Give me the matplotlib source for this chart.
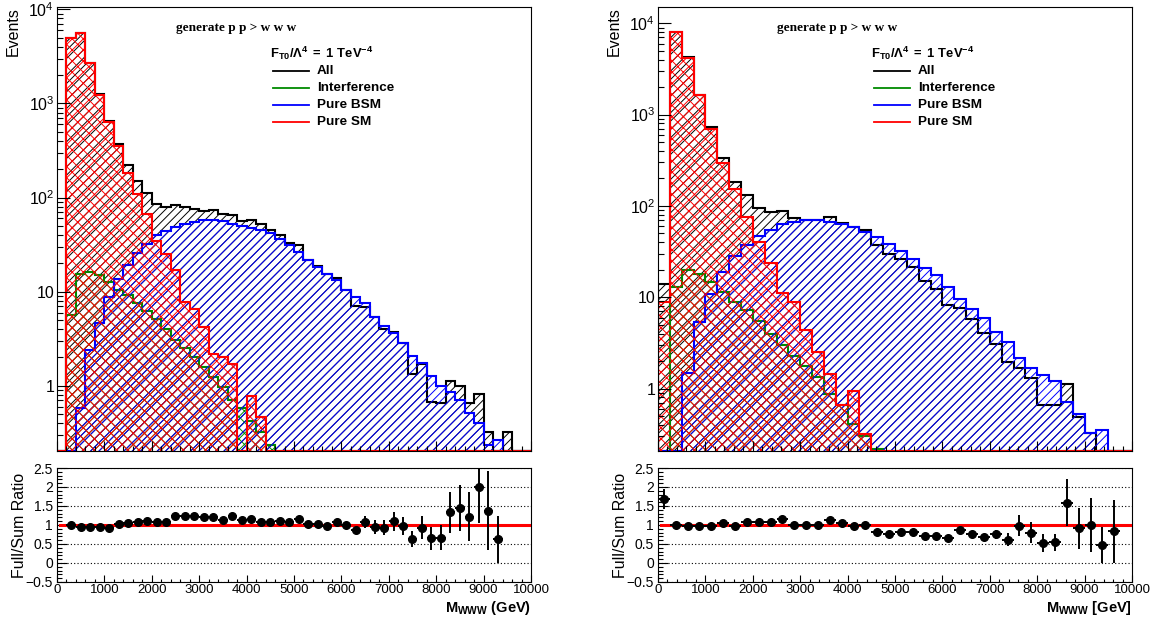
import numpy as np
import matplotlib
matplotlib.use("Agg")
import matplotlib.pyplot as plt
from matplotlib.ticker import MultipleLocator, LogLocator, NullFormatter, FuncFormatter

plt.rcParams['font.family'] = ['Liberation Sans', 'DejaVu Sans']
plt.rcParams['mathtext.fontset'] = 'custom'
plt.rcParams['mathtext.rm'] = 'Liberation Sans'
plt.rcParams['mathtext.bf'] = 'Liberation Sans:bold'
plt.rcParams['mathtext.it'] = 'Liberation Sans:italic'
plt.rcParams['hatch.linewidth'] = 0.7

# ---------------- left sample: 200 GeV bins ----------------
left_bin_width = 200
left_all = [0, 4950, 5660, 2700, 1260, 652, 368, 224, 149, 113,
            85, 78.5, 83, 78.5, 76.5, 72, 73, 67.5, 65, 56,
            57.5, 52, 45, 39.8, 33, 31, 21.9, 18.6, 15.6, 14.1,
            10.4, 7.0, 6.8, 5.4, 4.06, 3.74, 2.82, 1.33, 1.70, 0.68,
            0.66, 1.13, 1.0, 0.66, 0.82, 0.325, 0.17, 0.325, 0, 0]
left_int = [0, 5.7, 15.3, 16.3, 15, 12.7, 10.4, 9.2, 7.5, 6.3,
            5.1, 4.06, 3.1, 2.5, 2.03, 1.59, 1.25, 0.98, 0.70, 0.575,
            0.42, 0.325, 0.235, 0, 0, 0, 0, 0, 0, 0,
            0, 0, 0, 0, 0, 0, 0, 0, 0, 0,
            0, 0, 0, 0, 0, 0, 0, 0, 0, 0]
left_bsm = [0, 0, 0.575, 2.43, 4.67, 8.8, 13.5, 19.4, 25.8, 32.5,
            39.8, 44.3, 48.8, 52.8, 55, 57.3, 57.3, 56.4, 52.8, 49.6,
            47, 45, 41.6, 36.6, 31, 26.4, 21.9, 18.3, 15.6, 13.2,
            10.4, 8.7, 7.5, 5.4, 4.3, 3.6, 2.86, 2.07, 1.75, 1.27,
            0.99, 0.85, 0.70, 0.52, 0.40, 0.235, 0.265, 0, 0, 0]
left_sm = [0, 4950, 5650, 2680, 1240, 635, 351, 184, 108, 67.6,
           34.6, 25.4, 17.2, 7.8, 6.6, 4.2, 2.2, 2.0, 1.7, 0,
           0.78, 0.47, 0, 0, 0, 0, 0, 0, 0, 0,
           0, 0, 0, 0, 0, 0, 0, 0, 0, 0,
           0, 0, 0, 0, 0, 0, 0, 0, 0, 0]
left_ratio = [None, 1.0, 0.96, 0.96, 0.96, 0.93, 1.02, 1.04, 1.09, 1.10,
              1.09, 1.09, 1.24, 1.24, 1.24, 1.21, 1.21, 1.13, 1.24, 1.14,
              1.17, 1.08, 1.09, 1.10, 1.09, 1.17, 1.03, 1.03, 0.97, 1.08,
              0.99, 0.86, 1.07, 0.95, 0.93, 1.10, 0.98, 0.63, 0.93, 0.65,
              0.67, 1.33, 1.45, 1.22, 2.01, 1.38, 0.62, None, None, None]
left_ratio_err = [None, 0.02, 0.02, 0.02, 0.02, 0.02, 0.02, 0.02, 0.02, 0.02,
                  0.02, 0.03, 0.03, 0.03, 0.03, 0.03, 0.03, 0.03, 0.03, 0.03,
                  0.03, 0.04, 0.04, 0.05, 0.05, 0.05, 0.06, 0.06, 0.07, 0.07,
                  0.09, 0.09, 0.16, 0.18, 0.19, 0.25, 0.24, 0.22, 0.30, 0.30,
                  0.33, 0.53, 0.61, 0.645, 0.97, 1.03, 0.62, None, None, None]

# ---------------- right sample: 250 GeV bins ----------------
right_bin_width = 250
right_all = [14.1, 8070, 4250, 1650, 725, 339, 183, 131, 96, 86,
             88, 73, 71, 70, 76, 65, 58.6, 54, 37.1, 30.1,
             26.5, 21.5, 14.9, 12.3, 8.2, 7.7, 5.8, 4.1, 3.05, 1.96,
             1.66, 1.32, 0.66, 0.66, 1.13, 0.49, 0.33, 0.17, 0.12, 0]
right_int = [0, 13, 19.8, 18.2, 14.7, 11.4, 8.9, 7.2, 5.5, 4.0,
             2.98, 2.3, 1.76, 1.34, 0.88, 0.66, 0.41, 0.30, 0.22, 0,
             0, 0, 0, 0, 0, 0, 0, 0, 0, 0,
             0, 0, 0, 0, 0, 0, 0, 0, 0, 0]
right_bsm = [0, 0, 1.48, 5.36, 10.8, 18.9, 28.2, 37.8, 47, 55,
             63, 66.5, 69.7, 69.7, 66.5, 63, 58.6, 52, 45.5, 38.7,
             32, 26.5, 21.1, 17.4, 12.9, 9.5, 7.5, 6.0, 4.17, 3.24,
             2.18, 1.66, 1.40, 1.21, 0.71, 0.53, 0.33, 0.35, 0.15, 0]
right_sm = [8.9, 8050, 4220, 1630, 705, 299, 155, 75.8, 40.3, 23.7,
            11, 8.9, 4.43, 2.52, 1.43, 0.66, 0.94, 0.32, 0, 0,
            0, 0, 0, 0, 0, 0, 0, 0, 0, 0,
            0, 0, 0, 0, 0, 0, 0, 0, 0, 0]
right_ratio = [1.68, 1.0, 0.98, 0.97, 0.97, 1.04, 0.97, 1.09, 1.07, 1.07,
               1.15, 1.0, 1.0, 1.0, 1.13, 1.04, 0.98, 1.0, 0.81, 0.76,
               0.82, 0.82, 0.71, 0.71, 0.66, 0.86, 0.76, 0.69, 0.76, 0.61,
               0.98, 0.80, 0.52, 0.54, 1.59, 0.91, 1.0, 0.48, 0.83, None]
right_ratio_err = [0.26, 0.02, 0.02, 0.02, 0.02, 0.02, 0.02, 0.02, 0.02, 0.02,
                   0.03, 0.03, 0.03, 0.03, 0.03, 0.03, 0.03, 0.03, 0.04, 0.04,
                   0.05, 0.05, 0.06, 0.06, 0.07, 0.07, 0.08, 0.08, 0.12, 0.17,
                   0.28, 0.28, 0.24, 0.23, 0.61, 0.55, 0.72, 0.47, 0.84, None]

legend_header = r"$\mathbf{F_{T0}/\Lambda^{4}\ =\ 1\ TeV^{-4}}$"
legend_labels = ["All", "Interference", "Pure BSM", "Pure SM"]
process_text = "generate p p > w w w"
x_range = (0, 10000)

COLORS = {"All": "black", "Interference": "#008a00", "Pure BSM": "#0000ff", "Pure SM": "#ff0000"}
HATCH = {"All": "////", "Interference": "xxx", "Pure BSM": "////", "Pure SM": "xxx"}


def log_label(v, pos):
    if v <= 0:
        return ""
    e = int(round(np.log10(v)))
    if abs(v - 10 ** e) > 1e-6 * v:
        return ""
    if e == 0:
        return "1"
    if e == 1:
        return "10"
    return r"$\mathregular{10^{%d}}$" % e


def ratio_label(v, pos):
    s = "%g" % round(v, 3)
    return s.replace("-", "\u2212")


def draw_panel(ax, axr, width, hists, ratio, ratio_err, ylim, xlabel):
    n = len(hists["All"])
    edges = np.arange(n + 1) * width
    centers = 0.5 * (edges[:-1] + edges[1:])
    ymin = ylim[0]

    # stacked drawing order: total first, then the components
    for name in ["All", "Interference", "Pure BSM", "Pure SM"]:
        vals = np.clip(np.asarray(hists[name], dtype=float), ymin, None)
        ax.stairs(vals, edges, baseline=ymin, fill=True, facecolor="none",
                  edgecolor=COLORS[name], hatch=HATCH[name], linewidth=0)
        ax.stairs(vals, edges, baseline=ymin, color=COLORS[name], linewidth=1.5)

    ax.set_yscale("log")
    ax.set_xlim(*x_range)
    ax.set_ylim(*ylim)
    ax.xaxis.set_major_locator(MultipleLocator(1000))
    ax.xaxis.set_minor_locator(MultipleLocator(200))
    ax.yaxis.set_major_locator(LogLocator(base=10, numticks=20))
    ax.yaxis.set_minor_locator(LogLocator(base=10, subs=np.arange(2, 10), numticks=20))
    ax.yaxis.set_major_formatter(FuncFormatter(log_label))
    ax.yaxis.set_minor_formatter(NullFormatter())
    ax.tick_params(axis="both", which="both", direction="in", top=False, right=False,
                   labelbottom=False, labelsize=11.5)
    ax.tick_params(axis="y", which="major", length=9, width=0.8, pad=2)
    ax.tick_params(axis="y", which="minor", length=4.5, width=0.8)
    ax.tick_params(axis="x", which="major", length=7.5, width=0.8)
    ax.tick_params(axis="x", which="minor", length=3.5, width=0.8)
    for s in ax.spines.values():
        s.set_linewidth(0.8)

    ax.text(-0.092, 1.0, "Events", transform=ax.transAxes, rotation=90,
            ha="center", va="top", fontsize=11.5)
    ax.text(0.251, 0.9527, process_text, transform=ax.transAxes, ha="left", va="center",
            fontsize=9.5, fontweight="bold", family="Liberation Serif")
    ax.text(0.449, 0.8964, legend_header, transform=ax.transAxes, ha="left", va="center",
            fontsize=9.4)
    rows = [0.8565, 0.8176, 0.7793, 0.7417]
    for name, yy in zip(legend_labels, rows):
        ax.plot([0.455, 0.532], [yy, yy], transform=ax.transAxes, color=COLORS[name],
                lw=1.3, clip_on=False)
        ax.text(0.548, yy, name, transform=ax.transAxes, ha="left", va="center",
                fontsize=9.7, fontweight="bold")

    # ratio panel
    r = np.asarray(ratio, dtype=float)
    re = np.asarray(ratio_err, dtype=float)
    axr.set_xlim(*x_range)
    axr.set_ylim(-0.5, 2.5)
    axr.yaxis.set_major_locator(MultipleLocator(0.5))
    axr.yaxis.set_minor_locator(MultipleLocator(0.1))
    axr.yaxis.set_major_formatter(FuncFormatter(ratio_label))
    axr.xaxis.set_major_locator(MultipleLocator(1000))
    axr.xaxis.set_minor_locator(MultipleLocator(200))
    axr.grid(axis="y", which="major", linestyle=(0, (1, 2)), color="black", linewidth=0.8)
    axr.tick_params(axis="both", which="both", direction="in", top=False, right=False)
    axr.tick_params(axis="y", which="major", length=7, width=0.8, labelsize=10, pad=3)
    axr.tick_params(axis="y", which="minor", length=3.5, width=0.8)
    axr.tick_params(axis="x", which="major", length=5, width=0.8, labelsize=9.5, pad=1.5)
    axr.tick_params(axis="x", which="minor", length=2.5, width=0.8)
    for s in axr.spines.values():
        s.set_linewidth(0.8)
    axr.plot([60, 9950], [1, 1], color="#ff0000", lw=2.2, zorder=3)
    axr.errorbar(centers, r, yerr=re, xerr=width / 2, fmt="o", color="black",
                 ms=5.5, elinewidth=1.4, capsize=0, zorder=4)
    axr.text(-0.079, 0.5, "Full/Sum Ratio", transform=axr.transAxes, rotation=90,
             ha="center", va="center", fontsize=11.5)
    axr.text(1.0, -0.15, xlabel, transform=axr.transAxes, ha="right", va="top",
             fontsize=10.5, fontweight="bold")


fig = plt.figure(figsize=(11.62, 6.24), dpi=100)
left_top = fig.add_axes([0.04905, 0.27724, 0.40792, 0.71154])
left_bot = fig.add_axes([0.04905, 0.06731, 0.40792, 0.18269])
right_top = fig.add_axes([0.56627, 0.27724, 0.40792, 0.71154])
right_bot = fig.add_axes([0.56627, 0.06731, 0.40792, 0.18269])

draw_panel(left_top, left_bot, left_bin_width,
           {"All": left_all, "Interference": left_int, "Pure BSM": left_bsm, "Pure SM": left_sm},
           left_ratio, left_ratio_err, (0.203, 1.058e4), r"$\mathbf{M_{WWW}}$ (GeV)")
draw_panel(right_top, right_bot, right_bin_width,
           {"All": right_all, "Interference": right_int, "Pure BSM": right_bsm, "Pure SM": right_sm},
           right_ratio, right_ratio_err, (0.207, 1.51e4), r"$\mathbf{M_{WWW}}$ [GeV]")

fig.savefig("out.png", dpi=100)
